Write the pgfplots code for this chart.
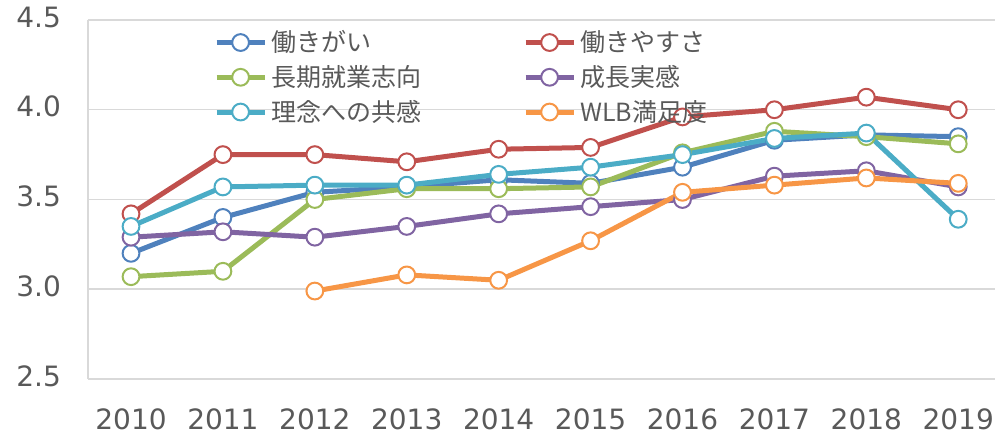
\documentclass[border=0pt]{standalone}
\usepackage{fontspec}
\setmainfont{DejaVu Sans}
\newfontfamily\jp{Noto Sans CJK JP}
\usepackage{pgfplots}
\pgfplotsset{compat=1.18}
\definecolor{c1}{HTML}{4F81BD}
\definecolor{c2}{HTML}{C0504D}
\definecolor{c3}{HTML}{9BBB59}
\definecolor{c4}{HTML}{8064A2}
\definecolor{c5}{HTML}{4BACC6}
\definecolor{c6}{HTML}{F79646}
\definecolor{tickgray}{HTML}{595959}
\definecolor{gridgray}{HTML}{D9D9D9}
\begin{document}
\begin{tikzpicture}
\path[use as bounding box] (-44pt,-29.5pt) rectangle (453.5pt,189.5pt);
\begin{axis}[
  at={(0,0)}, anchor=south west,
  scale only axis, width=453.5pt, height=179.5pt,
  xmin=-0.468, xmax=9.40, ymin=2.5, ymax=4.5,
  xtick={0,1,2,3,4,5,6,7,8,9},
  xticklabels={2010,2011,2012,2013,2014,2015,2016,2017,2018,2019},
  ytick={2.5,3,3.5,4,4.5},
  yticklabel style={/pgf/number format/fixed, /pgf/number format/fixed zerofill, /pgf/number format/precision=1, xshift=-10pt, yshift=1.5pt},
  /pgf/number format/assume math mode=true,
  ymajorgrids, grid style={gridgray, line width=0.75pt},
  axis x line*=bottom, axis y line*=left,
  axis line style={gridgray, line width=0.75pt, -},
  major tick length=0pt,
  tick label style={font=\fontsize{14}{16}\selectfont, text=tickgray},
  xticklabel style={yshift=-11.5pt},
  clip=false,
  every axis plot/.append style={line width=2.5pt, line join=round, mark=*, mark size=4.2pt, mark options={fill=white, line width=1pt}},
  legend columns=2,
  legend cell align=left,
  legend style={at={(axis description cs:0.139,0.982)}, anchor=north west, draw=none, fill=none,
    inner sep=0pt, outer sep=0pt, font=\jp\fontsize{12.5}{14}\selectfont, text=tickgray,
    nodes={inner sep=2pt}, row sep=1.3pt,
    /tikz/every even column/.append style={column sep=49pt}},
  legend image code/.code={\draw[mark repeat=2, mark phase=2, #1] plot coordinates {(0pt,0pt)(12pt,0pt)(24pt,0pt)};},
]
\addplot[c1] coordinates {(0,3.20)(1,3.40)(2,3.54)(3,3.57)(4,3.61)(5,3.59)(6,3.68)(7,3.83)(8,3.86)(9,3.85)};
\addlegendentry{働きがい}
\addplot[c2] coordinates {(0,3.42)(1,3.75)(2,3.75)(3,3.71)(4,3.78)(5,3.79)(6,3.96)(7,4.00)(8,4.07)(9,4.00)};
\addlegendentry{働きやすさ}
\addplot[c3] coordinates {(0,3.07)(1,3.10)(2,3.50)(3,3.56)(4,3.56)(5,3.57)(6,3.76)(7,3.88)(8,3.85)(9,3.81)};
\addlegendentry{長期就業志向}
\addplot[c4] coordinates {(0,3.29)(1,3.32)(2,3.29)(3,3.35)(4,3.42)(5,3.46)(6,3.50)(7,3.63)(8,3.66)(9,3.57)};
\addlegendentry{成長実感}
\addplot[c5] coordinates {(0,3.35)(1,3.57)(2,3.58)(3,3.58)(4,3.64)(5,3.68)(6,3.75)(7,3.84)(8,3.87)(9,3.39)};
\addlegendentry{理念への共感}
\addplot[c6] coordinates {(2,2.99)(3,3.08)(4,3.05)(5,3.27)(6,3.54)(7,3.58)(8,3.62)(9,3.59)};
\addlegendentry{WLB満足度}
\end{axis}
\end{tikzpicture}
\end{document}
